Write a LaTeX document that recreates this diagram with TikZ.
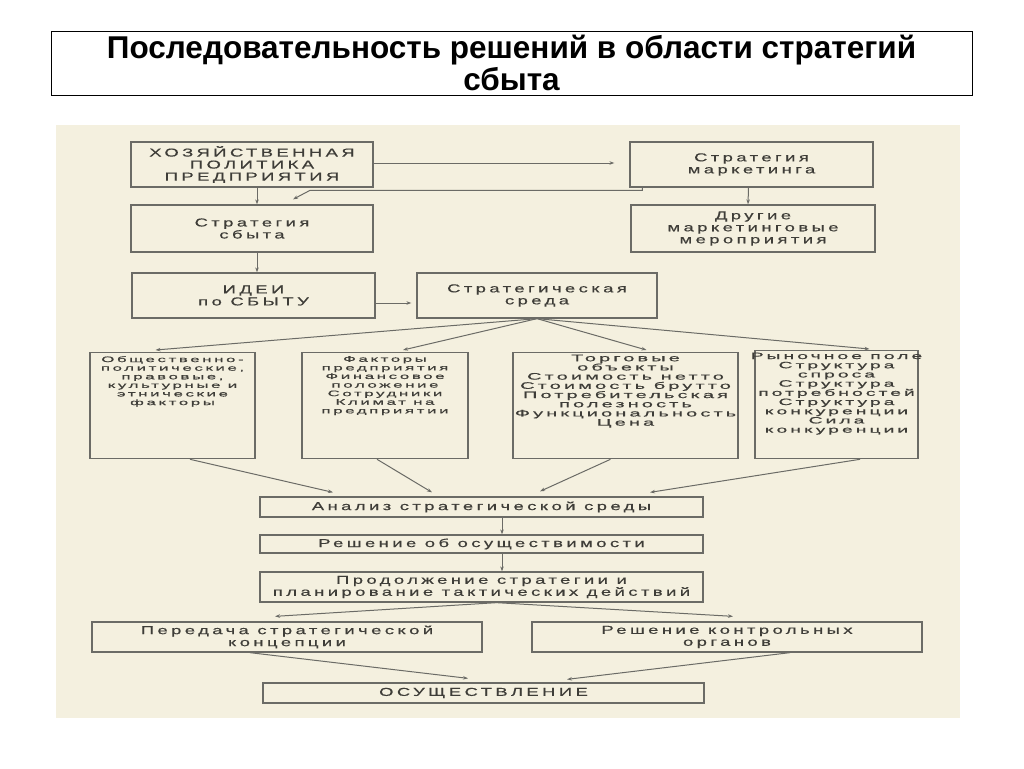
\documentclass[tikz,border=0pt]{standalone}
\usepackage{fontspec}
\setmainfont{Liberation Sans}
\newfontfamily\skanfont[FakeStretch=1.6,LetterSpace=30,FakeBold=0.6]{Liberation Sans}
\newfontfamily\uzkifont[FakeStretch=2.1,LetterSpace=33,FakeBold=0.6]{Liberation Sans}
\usetikzlibrary{arrows.meta,positioning}
\definecolor{skan}{HTML}{F4F0DF}
\definecolor{linija}{HTML}{6B6B66}
\definecolor{tekst}{HTML}{3E3D38}
\newcommand\tesno{\lineskiplimit-20pt\relax}

\begin{document}
\begin{tikzpicture}[x=1pt, y=-1pt, >={Stealth[length=5pt,width=3.5pt]},
      blok/.style={draw=linija, line width=1.3pt, inner sep=0pt, align=center,
                   text=tekst, font=\skanfont\fontsize{11.5}{12}\selectfont},
      faktor/.style={draw=linija, line width=1.3pt, inner sep=0pt, anchor=north,
                     minimum height=106pt},
      faktortekst/.style={anchor=north, yshift=-2.5pt, inner sep=0pt, align=center, text=tekst,
                          font=\uzkifont\fontsize{9.5}{9.2}\selectfont\tesno},
      melkij/.style={yshift=-1.5pt, font=\uzkifont\fontsize{8}{8.6}\selectfont\tesno},
      strelka/.style={->, linija, line width=1pt}]
    \useasboundingbox (0,0) rectangle (1024,768);
    \fill[skan] (56,125) rectangle (960,718);
    \node[draw, line width=0.8pt, minimum width=921pt, minimum height=64pt, inner sep=0pt,
          align=center, font=\bfseries\fontsize{31.5}{32}\selectfont] (zagolovok) at (511.5,63)
          {Последовательность решений в области стратегий\\сбыта};
    % verhnie bloki
    \node[blok, minimum width=242pt, minimum height=45pt] (hoz) at (252,164.5) {ХОЗЯЙСТВЕННАЯ\\ПОЛИТИКА\\ПРЕДПРИЯТИЯ};
    \node[blok, minimum width=243pt, minimum height=45pt] (mark) at (751.5,164.5) {Стратегия\\маркетинга};
    \node[blok, minimum width=242pt, minimum height=47pt] (sbyt) at (252,228.5) {Стратегия\\сбыта};
    \node[blok, minimum width=244pt, minimum height=47pt] (drug) at (753,228.5) {Другие\\маркетинговые\\мероприятия};
    \node[blok, minimum width=243pt, minimum height=45pt] (idei) at (253.5,295.5) {ИДЕИ\\по СБЫТУ};
    \node[blok, minimum width=240pt, minimum height=45pt] (sreda) at (537,295.5) {Стратегическая\\среда};
    % faktory sredy
    \node[faktor, minimum width=165pt,
          label={[faktortekst, melkij]north:{Общественно-\\политические,\\правовые,\\культурные и\\этнические\\факторы}}]
          (fA) at (172.5,352) {};
    \node[faktor, minimum width=166pt,
          label={[faktortekst, melkij]north:{Факторы\\предприятия\\Финансовое\\положение\\Сотрудники\\Климат на\\предприятии}}]
          (fB) at (385,352) {};
    \node[faktor, minimum width=225pt,
          label={[faktortekst]north:{Торговые\\объекты\\Стоимость нетто\\Стоимость брутто\\Потребительская\\полезность\\Функциональность\\Цена}}]
          (fC) at (625.5,352) {};
    \node[faktor, minimum width=163pt, minimum height=108pt,
          label={[faktortekst, font=\uzkifont\fontsize{9.2}{9.2}\selectfont\tesno]north:{Рыночное поле\\Структура\\спроса\\Структура\\потребностей\\Структура\\конкуренции\\Сила\\конкуренции}}]
          (fD) at (836.5,350) {};
    % nizhnie bloki
    \node[blok, minimum width=443pt, minimum height=20pt] (analiz) at (481.5,507) {Анализ стратегической среды};
    \node[blok, minimum width=443pt, minimum height=18pt] (resh) at (481.5,544) {Решение об осуществимости};
    \node[blok, minimum width=443pt, minimum height=30pt] (prod) at (481.5,587) {Продолжение стратегии и\\планирование тактических действий};
    \node[blok, minimum width=390pt, minimum height=30pt] (pered) at (287,637) {Передача стратегической\\концепции};
    \node[blok, minimum width=390pt, minimum height=30pt] (kontr) at (727,637) {Решение контрольных\\органов};
    \node[blok, minimum width=441pt, minimum height=20pt] (osush) at (483.5,693) {ОСУЩЕСТВЛЕНИЕ};
    % strelki
    \draw[strelka, shorten >=15pt] ([yshift=1.5pt]hoz.east) -- ([yshift=1.5pt]mark.west);
    \draw[strelka] ([xshift=5pt]hoz.south) -- ([xshift=5pt]sbyt.north);
    \draw[strelka] ([xshift=-3pt]mark.south) -- ([xshift=-5pt]drug.north);
    \draw[strelka] ([xshift=13pt]mark.south west) |- ([xshift=58pt,yshift=14pt]sbyt.north) -- ([xshift=41pt,yshift=5pt]sbyt.north);
    \draw[strelka] ([xshift=5pt]sbyt.south) -- ([xshift=3.5pt]idei.north);
    \draw[strelka, shorten >=5pt] ([yshift=-7.5pt]idei.east) -- ([yshift=-7.5pt]sreda.west);
    \draw[strelka] (sreda.south) -- ([xshift=-17pt,yshift=2pt]fA.north);
    \draw[strelka] (sreda.south) -- ([xshift=18pt,yshift=2pt]fB.north);
    \draw[strelka] (sreda.south) -- ([xshift=21pt,yshift=2pt]fC.north);
    \draw[strelka] (sreda.south) -- ([xshift=33pt,yshift=1pt]fD.north);
    \draw[strelka] ([xshift=17.5pt]fA.south) -- ([xshift=-148.5pt,yshift=4pt]analiz.north);
    \draw[strelka] ([xshift=-8pt]fB.south) -- ([xshift=-49.5pt,yshift=4pt]analiz.north);
    \draw[strelka] ([xshift=-15pt]fC.south) -- ([xshift=58.5pt,yshift=5pt]analiz.north);
    \draw[strelka] ([xshift=23.5pt]fD.south) -- ([xshift=168.5pt,yshift=4pt]analiz.north);
    \draw[strelka] ([xshift=20.5pt]analiz.south) -- ([xshift=20.5pt]resh.north);
    \draw[strelka] ([xshift=20.5pt]resh.south) -- ([xshift=20.5pt]prod.north);
    \draw[strelka] ([xshift=15pt]prod.south) -- ([xshift=-12pt,yshift=5pt]pered.north);
    \draw[strelka] ([xshift=15pt]prod.south) -- ([xshift=6pt,yshift=5pt]kontr.north);
    \draw[strelka] ([xshift=-37pt]pered.south) -- ([xshift=-15.5pt,yshift=4pt]osush.north);
    \draw[strelka] ([xshift=63pt]kontr.south) -- ([xshift=83.5pt,yshift=3pt]osush.north);
  \end{tikzpicture}
\end{document}
